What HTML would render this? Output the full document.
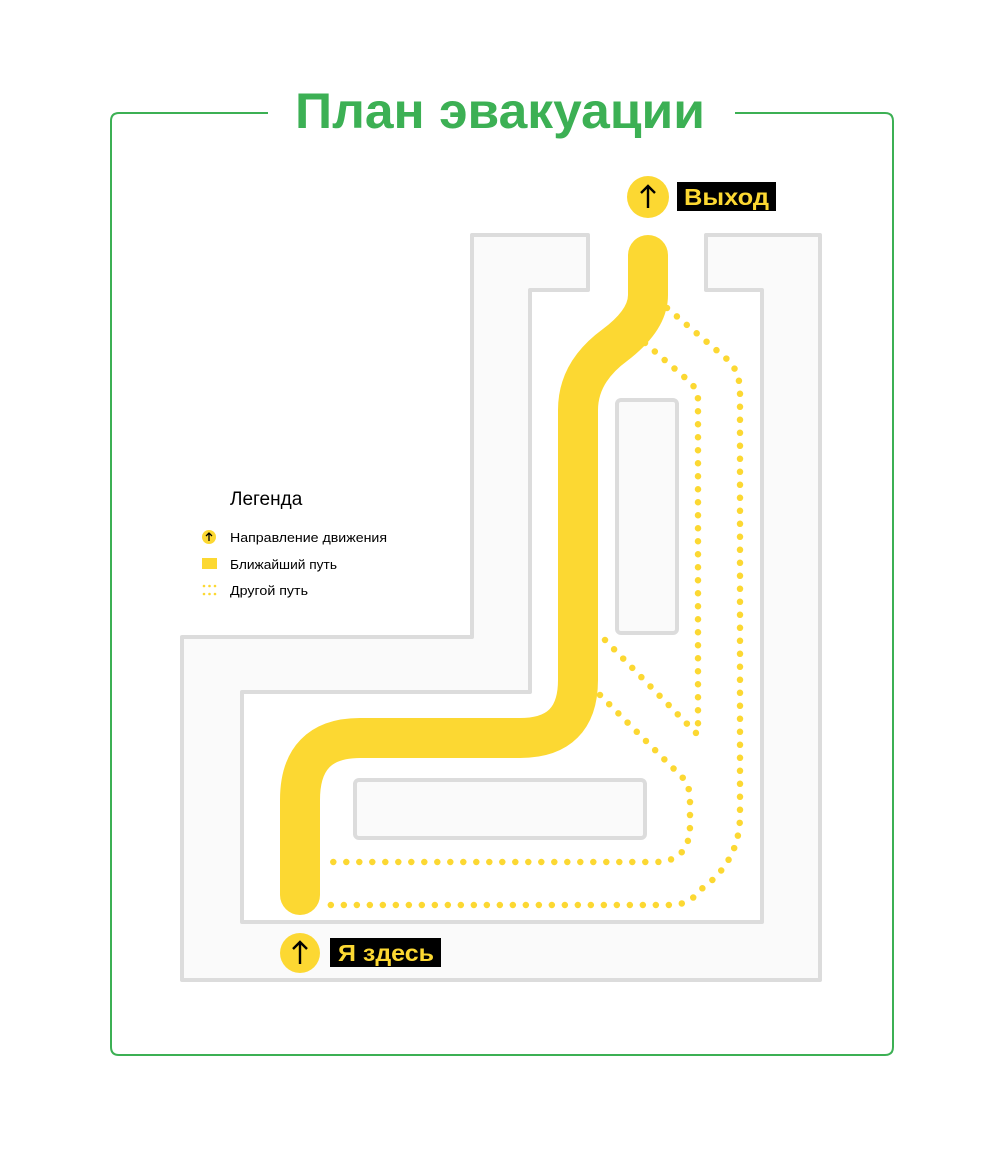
<!DOCTYPE html>
<html><head><meta charset="utf-8"><style>html,body{margin:0;padding:0;background:#fff}svg{display:block}</style></head>
<body>
<svg width="1000" height="1165" viewBox="0 0 1000 1165" xmlns="http://www.w3.org/2000/svg" font-family="Liberation Sans, DejaVu Sans, sans-serif">
<path d="M268 113 H119 Q111 113 111 121 V1047 Q111 1055 119 1055 H885 Q893 1055 893 1047 V121 Q893 113 885 113 H735" fill="none" stroke="#3cb054" stroke-width="2"/>
<text x="500" y="128" text-anchor="middle" font-size="50" font-weight="bold" fill="#3cb054" textLength="410" lengthAdjust="spacingAndGlyphs">План эвакуации</text>

<path d="M588 235 H472 V637 H182 V980 H820 V235 H706 V290 H762 V922 H242 V692 H530 V290 H588 Z" fill="#fafafa" stroke="#dcdcdc" stroke-width="4" stroke-linejoin="round"/>
<rect x="617" y="400" width="60" height="233" rx="4" fill="#fafafa" stroke="#dcdcdc" stroke-width="4"/>
<rect x="355" y="780" width="290" height="58" rx="4" fill="#fafafa" stroke="#dcdcdc" stroke-width="4"/>

<g fill="none" stroke="#fcd832" stroke-width="6.5" stroke-linecap="round" stroke-dasharray="0 13">
<path d="M667 308 L728 360 Q740 372 740 392 V815 Q740 862 700 890 Q690 905 670 905 H330"/>
<path d="M645 343 L690 382 Q698 390 698 400 V735"/>
<path d="M605 640 L698 735"/>
<path d="M600 695 L683 778 Q690 786 690 800 V825 Q690 862 655 862 H330"/>
</g>

<path d="M648 255 V295 Q648 320 615 345 Q578 372 578 410 V680 Q578 738 520 738 H360 Q300 738 300 800 V895" fill="none" stroke="#fcd832" stroke-width="40" stroke-linecap="round" stroke-linejoin="round"/>

<circle cx="648" cy="197" r="21" fill="#fcd832"/>
<path d="M648 208 V186 M641 193 L648 186 L655 193" stroke="#000" stroke-width="2.4" fill="none"/>
<rect x="677" y="182" width="99" height="29" fill="#000"/>
<text x="684" y="205" font-size="23" font-weight="bold" fill="#fcd832" textLength="85" lengthAdjust="spacingAndGlyphs">Выход</text>

<circle cx="300" cy="953" r="20" fill="#fcd832"/>
<path d="M300 964 V942 M293 949 L300 942 L307 949" stroke="#000" stroke-width="2.4" fill="none"/>
<rect x="330" y="938" width="111" height="29" fill="#000"/>
<text x="338" y="961" font-size="23" font-weight="bold" fill="#fcd832" textLength="96" lengthAdjust="spacingAndGlyphs">Я здесь</text>

<text x="230" y="505" font-size="19" fill="#000">Легенда</text>
<circle cx="209" cy="537" r="7" fill="#fcd832"/>
<path d="M209 541 V533 M206 536 L209 533 L212 536" stroke="#000" stroke-width="1.3" fill="none"/>
<text x="230" y="542" font-size="13" fill="#000" textLength="157" lengthAdjust="spacingAndGlyphs">Направление движения</text>
<rect x="202" y="558" width="15" height="11" fill="#fcd832"/>
<text x="230" y="569" font-size="13" fill="#000" textLength="107" lengthAdjust="spacingAndGlyphs">Ближайший путь</text>
<g fill="#fcd832"><circle cx="204" cy="586" r="1.3"/><circle cx="209.5" cy="586" r="1.3"/><circle cx="215" cy="586" r="1.3"/><circle cx="204" cy="594" r="1.3"/><circle cx="209.5" cy="594" r="1.3"/><circle cx="215" cy="594" r="1.3"/></g>
<text x="230" y="595" font-size="13" fill="#000" textLength="78" lengthAdjust="spacingAndGlyphs">Другой путь</text>
</svg>
</body></html>
